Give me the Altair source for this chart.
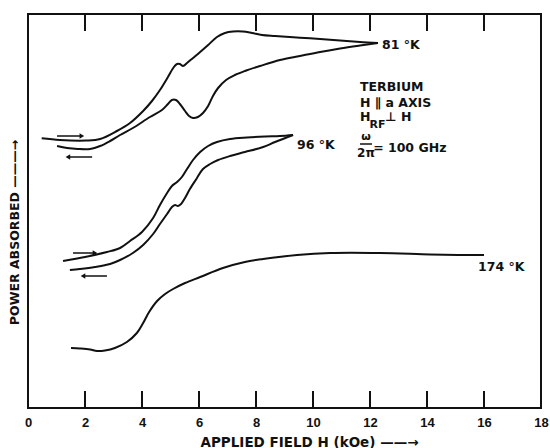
import altair as alt
import pandas as pd

# ---------------- data (H in kOe, P = power absorbed, arbitrary units) ----------------
h81_up = [0.48, 1.12, 2.04, 2.53, 3.12, 3.58, 4.04, 4.35, 4.63, 4.91, 5.12, 5.23, 5.33, 5.44,
          5.58, 5.79, 6.04, 6.32, 6.63, 6.91, 7.19, 7.54, 7.86, 8.21, 8.67, 9.19, 9.72, 10.25,
          10.95, 11.65, 12.28]
p81_up = [269.7, 268, 267.5, 269, 277, 285, 297, 307, 318, 331, 341, 344, 344, 342,
          345, 350, 356, 363, 371, 375, 376.5, 376.5, 375, 373, 372, 371, 370, 369,
          367.5, 366, 365]

h81_dn = [12.28, 11.65, 10.95, 10.25, 9.54, 8.84, 8.14, 7.61, 7.26, 6.95, 6.67, 6.49, 6.32,
          6.14, 5.96, 5.79, 5.65, 5.51, 5.33, 5.19, 5.05, 4.91, 4.70, 4.28, 3.68, 3.23, 2.88,
          2.53, 2.18, 1.75, 1.37, 1.02]
p81_dn = [365, 362.5, 359.5, 356, 352, 348, 342, 337, 333, 328, 320, 312, 302,
          295, 291, 290, 292, 297, 304, 308, 308, 304, 298, 291, 280, 273, 267,
          262, 259, 259, 260, 262]

h96_up = [1.23, 2.00, 2.77, 3.23, 3.58, 4.00, 4.39, 4.63, 4.88, 5.05, 5.23, 5.40, 5.58, 5.79,
          6.04, 6.32, 6.63, 7.09, 7.68, 8.32, 8.84, 9.30]
p96_up = [147, 151, 156, 160, 167, 176, 190, 203, 215, 222, 226, 231, 239, 248,
          256, 262, 266, 269, 270.5, 271.5, 272, 273]

h96_dn = [9.30, 8.67, 8.25, 7.61, 7.09, 6.67, 6.39, 6.14, 5.93, 5.68, 5.51, 5.37, 5.26, 5.16,
          5.05, 4.88, 4.63, 4.39, 4.04, 3.68, 3.23, 2.88, 2.35, 1.82, 1.47]
p96_dn = [273, 266, 261, 256, 252, 248, 244, 239, 230, 219, 210, 204, 202, 203,
          201, 194, 184, 174, 163, 155, 148, 144, 141, 139, 138]

h174 = [1.51, 1.82, 2.18, 2.42, 2.70, 3.05, 3.47, 3.82, 4.04, 4.25, 4.53, 4.81, 5.09, 5.51,
        6.04, 6.84, 7.61, 8.25, 9.44, 10.60, 12.35, 14.11, 15.16, 16.00]
p174 = [60, 59.5, 58.5, 57, 57.5, 60, 66, 75, 85, 96, 107, 114, 119, 125,
        131, 140, 146, 149, 153, 155, 155, 153.5, 153, 153]

# sweep-direction arrows: start H, end H, level P, direction
arrow_h1 = [1.02, 1.40, 1.58, 1.93]
arrow_h2 = [1.89, 2.25, 2.35, 2.77]
arrow_p = [272, 251, 155, 132]
arrow_dir = ["right", "left", "right", "left"]

# curve labels
label_text = ["81 °K", "96 °K", "174 °K"]
label_h = [12.42, 9.44, 15.79]
label_p = [363, 263, 141]

# annotation block
note_text = ["TERBIUM", "H ∥ a  AXIS", "H", "⊥ H", "= 100 GHz"]
note_h = [11.65, 11.65, 11.65, 12.53, 12.11]
note_p = [321, 305, 291, 291, 260]
sub_text = ["RF"]
sub_h = [11.98]
sub_p = [283]
frac_top = ["ω"]
frac_bot = ["2π"]
frac_h1 = [11.65]
frac_h2 = [12.07]
frac_line_p = [264]
frac_top_p = [271]
frac_bot_p = [255]

# inward frame ticks: positions (kOe) and centre levels of the bottom / top tick rows
tick_values = [2, 4, 6, 8, 10, 12, 14, 16]
tick_centres = [8.5, 385.5]
label_values = list(range(0, 19, 2))

# ---------------- build tables ----------------
rows = []
for name, hs, ps in [("81up", h81_up, p81_up), ("81dn", h81_dn, p81_dn),
                     ("96up", h96_up, p96_up), ("96dn", h96_dn, p96_dn),
                     ("174", h174, p174)]:
    for i, (h, p) in enumerate(zip(hs, ps)):
        rows.append({"H": h, "P": p, "curve": name, "i": i})
curves = pd.DataFrame(rows)

frame = pd.DataFrame([{"fx": t, "fy": c} for t in tick_values for c in tick_centres])

arrows = pd.DataFrame({"h1": arrow_h1, "h2": arrow_h2, "p": arrow_p, "dir": arrow_dir})
arrows["head"] = [b if d == "right" else a for a, b, d in zip(arrow_h1, arrow_h2, arrow_dir)]
labels = pd.DataFrame({"t": label_text, "h": label_h, "p": label_p})
notes = pd.DataFrame({"t": note_text, "h": note_h, "p": note_p})
subs = pd.DataFrame({"t": sub_text, "h": sub_h, "p": sub_p})
frac = pd.DataFrame({"top": frac_top, "bot": frac_bot, "h1": frac_h1, "h2": frac_h2,
                     "lp": frac_line_p, "tp": frac_top_p, "bp": frac_bot_p})
frac["hc"] = (frac["h1"] + frac["h2"]) / 2

FONT = "DejaVu Sans"
INK = "#111111"

xscale = alt.Scale(domain=[0, 18], nice=False, zero=False)
yscale = alt.Scale(domain=[0, 394], nice=False, zero=False)

xaxis = alt.Axis(values=label_values, ticks=False, domain=False, grid=False,
                 labelFont="Liberation Sans", labelFontSize=13, labelFontWeight="bold",
                 labelColor=INK, labelPadding=8, labelFlush=False,
                 title="APPLIED FIELD  H (kOe) ——→", titleFont=FONT, titleFontSize=13.5,
                 titleFontWeight="bold", titleColor=INK, titleX=281, titleY=34,
                 titleAlign="center", titleBaseline="middle")
yaxis = alt.Axis(labels=False, ticks=False, domain=False, grid=False,
                 title="POWER ABSORBED ———→", titleFont=FONT, titleFontSize=12.5,
                 titleFontWeight="bold", titleColor=INK, titleAngle=270, titleX=-14,
                 titleY=218, titleAlign="center", titleBaseline="middle")

lines = alt.Chart(curves).mark_line(color=INK, strokeWidth=2, interpolate="catmull-rom").encode(
    x=alt.X("H:Q", scale=xscale, axis=xaxis),
    y=alt.Y("P:Q", scale=yscale, axis=yaxis),
    detail="curve:N",
    order="i:Q",
)

frame_ticks = alt.Chart(frame).mark_tick(color=INK, orient="vertical", size=17,
                                         thickness=2, opacity=1).encode(
    x=alt.X("fx:Q"), y=alt.Y("fy:Q"))

arrow_shafts = alt.Chart(arrows).mark_rule(color=INK, strokeWidth=1.5).encode(
    x="h1:Q", x2="h2:Q", y="p:Q")
arrow_heads = alt.Chart(arrows).mark_point(filled=True, color=INK, size=28, opacity=1).encode(
    x="head:Q", y="p:Q",
    shape=alt.Shape("dir:N", scale=alt.Scale(domain=["right", "left"],
                                             range=["triangle-right", "triangle-left"]),
                    legend=None))

lab = alt.Chart(labels).mark_text(font=FONT, fontSize=12.5, fontWeight="bold", color=INK,
                                  align="left", baseline="middle").encode(
    x="h:Q", y="p:Q", text="t:N")
note = alt.Chart(notes).mark_text(font=FONT, fontSize=12.5, fontWeight="bold", color=INK,
                                  align="left", baseline="middle").encode(
    x="h:Q", y="p:Q", text="t:N")
sub = alt.Chart(subs).mark_text(font=FONT, fontSize=11, fontWeight="bold", color=INK,
                                align="left", baseline="middle").encode(
    x="h:Q", y="p:Q", text="t:N")
frac_line = alt.Chart(frac).mark_rule(color=INK, strokeWidth=1.5).encode(
    x="h1:Q", x2="h2:Q", y="lp:Q")
frac_t = alt.Chart(frac).mark_text(font=FONT, fontSize=11, fontWeight="bold", color=INK,
                                   align="center", baseline="middle").encode(
    x="hc:Q", y="tp:Q", text="top:N")
frac_b = alt.Chart(frac).mark_text(font=FONT, fontSize=12, fontWeight="bold", color=INK,
                                   align="center", baseline="middle").encode(
    x="hc:Q", y="bp:Q", text="bot:N")

chart = alt.layer(lines, frame_ticks, arrow_shafts, arrow_heads, lab, note, sub,
                  frac_line, frac_t, frac_b).properties(
    width=513, height=394, autosize="none",
    padding={"left": 28, "top": 14, "right": 9, "bottom": 40},
    background="white",
).configure_view(stroke=INK, strokeWidth=2)

chart.save("out.html", embed_options={"renderer": "svg", "actions": False})
